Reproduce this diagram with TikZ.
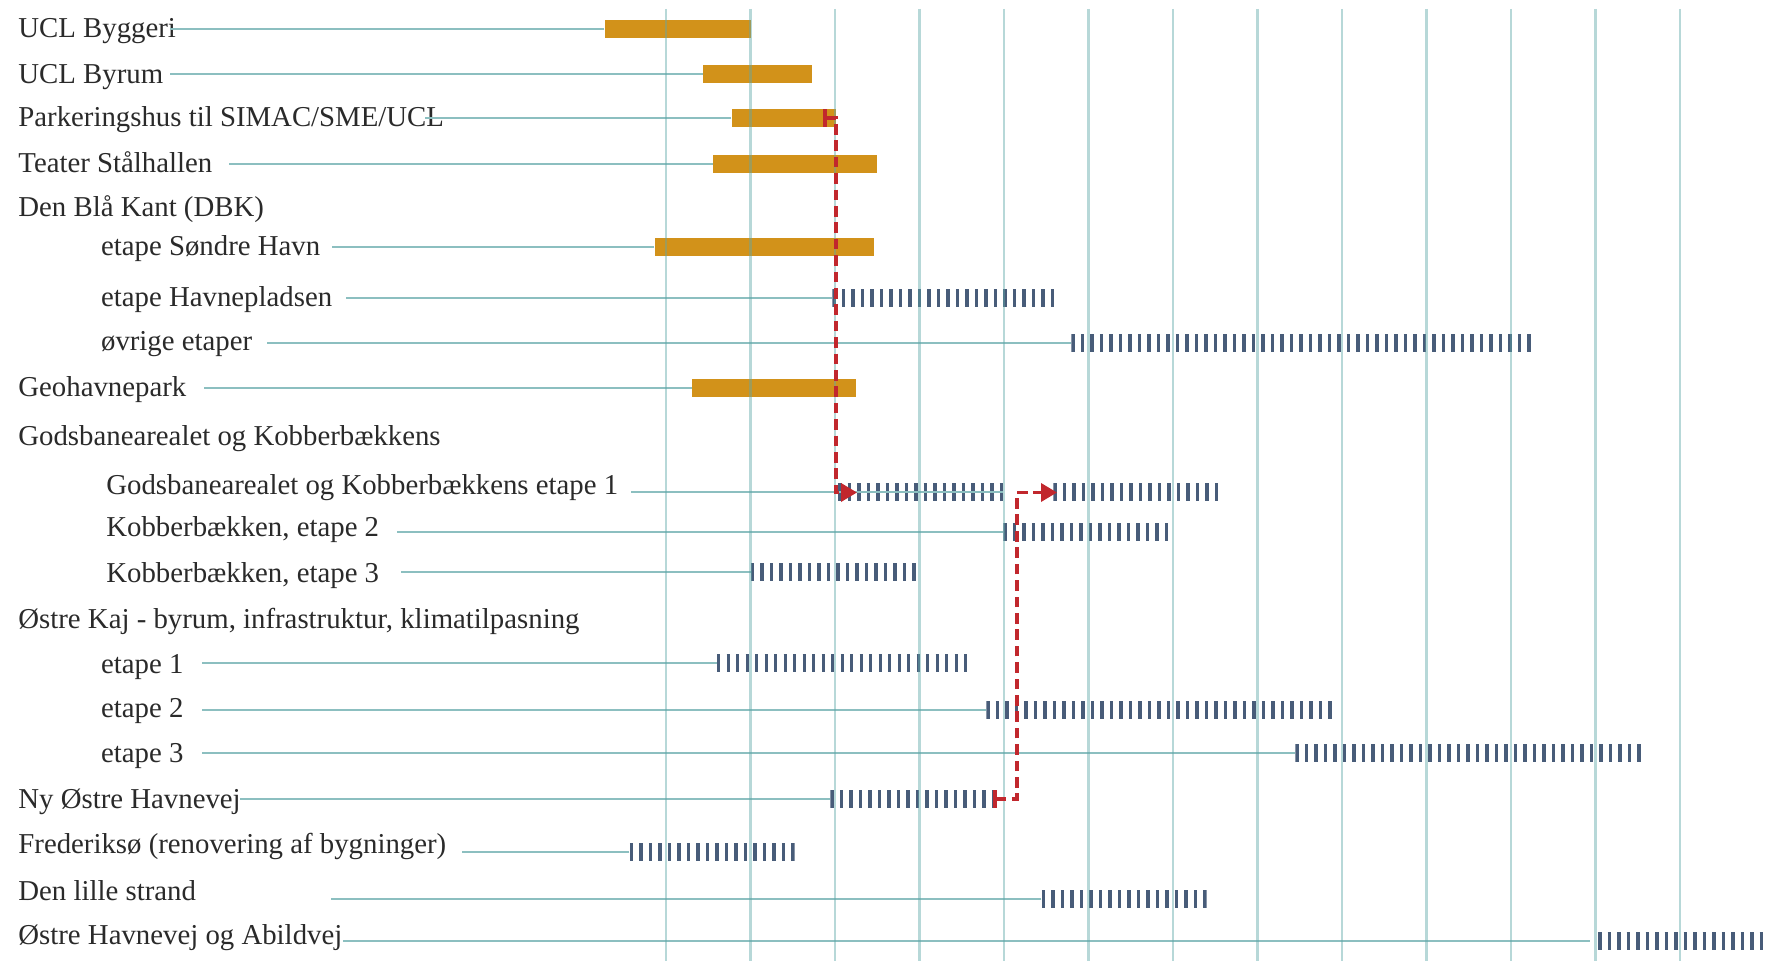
\documentclass[tikz,border=0pt]{standalone}
\usepackage{fontspec}
\setmainfont{Liberation Serif}
\usetikzlibrary{arrows.meta}

\definecolor{gridteal}{HTML}{5FA8A8}
\definecolor{rowteal}{HTML}{8CBFC0}
\definecolor{barorange}{HTML}{D2921A}
\definecolor{tickblue}{HTML}{485C79}
\definecolor{linkred}{HTML}{C1272D}
\definecolor{txtgrey}{HTML}{2A2A2A}

\tikzset{
  lbl/.style={anchor=base west, inner sep=0pt, text=txtgrey, font=\fontsize{14.4}{17}\selectfont},
  rowline/.style={draw=rowteal, line width=1pt},
  obar/.style={anchor=west, fill=barorange, inner sep=0pt, minimum height=9pt},
  tbar/.style={anchor=west, inner sep=0pt, minimum height=9pt,
    path picture={\draw[tickblue, line width=9pt, dash pattern=on 1.7pt off 3.05pt]
      (path picture bounding box.west) -- (path picture bounding box.east);}},
  gridline/.style={draw=gridteal, line width=1.3pt, opacity=0.45},
  link/.style={draw=linkred, line width=1.75pt, dash pattern=on 5.3pt off 2.9pt,
    {Bar[width=9pt,line width=2pt]}-{Triangle[length=8pt,width=9pt]}},
}

\begin{document}
\begin{tikzpicture}[x=0.5pt,y=-0.5pt]
    \useasboundingbox (0,0) rectangle (1775,961);

    % project names
    \node[lbl] (t1) at (18,38) {UCL Byggeri};
    \node[lbl] (t2) at (18,84) {UCL Byrum};
    \node[lbl] (t3) at (18,127) {Parkeringshus til SIMAC/SME/UCL};
    \node[lbl] (t4) at (18,173) {Teater Stålhallen};
    \node[lbl] (t5) at (18,217) {Den Blå Kant (DBK)};
    \node[lbl] (t6) at (100.7,256) {etape Søndre Havn};
    \node[lbl] (t7) at (100.7,307) {etape Havnepladsen};
    \node[lbl] (t8) at (100.7,351) {øvrige etaper};
    \node[lbl] (t9) at (18,397) {Geohavnepark};
    \node[lbl] (t10) at (18,446) {Godsbanearealet og Kobberbækkens};
    \node[lbl] (t11) at (106,495) {Godsbanearealet og Kobberbækkens etape 1};
    \node[lbl] (t12) at (106,537) {Kobberbækken, etape 2};
    \node[lbl] (t13) at (106,582) {Kobberbækken, etape 3};
    \node[lbl] (t14) at (18,628) {Østre Kaj - byrum, infrastruktur, klimatilpasning};
    \node[lbl] (t15) at (100.7,673.5) {etape 1};
    \node[lbl] (t16) at (100.7,717.6) {etape 2};
    \node[lbl] (t17) at (100.7,762) {etape 3};
    \node[lbl] (t18) at (18,808) {Ny Østre Havnevej};
    \node[lbl] (t19) at (18,853.5) {Frederiksø (renovering af bygninger)};
    \node[lbl] (t20) at (18,900) {Den lille strand};
    \node[lbl] (t21) at (18,944) {Østre Havnevej og Abildvej};

    % ongoing projects (orange bars)
    \node[obar, minimum width=73.1pt] (byggeri) at (604.3,29) {};
    \node[obar, minimum width=54.15pt] (byrum) at (703,74.5) {};
    \node[obar, minimum width=52pt] (park) at (731.3,118) {};
    \node[obar, minimum width=81.85pt] (teater) at (713,164) {};
    \node[obar, minimum width=109.85pt] (sondre) at (654.3,247) {};
    \node[obar, minimum width=82pt] (geo) at (691.7,388) {};

    % planned projects (ticks)
    \node[tbar, minimum width=110.95pt] (havnepl) at (832,298) {};
    \node[tbar, minimum width=229.7pt] (ovrige) at (1071,343) {};
    \node[tbar, minimum width=82.45pt] (gk1a) at (837.7,492.5) {};
    \node[tbar, minimum width=82.45pt] (gk1b) at (1053,492.5) {};
    \node[tbar, minimum width=82.45pt] (kob2) at (1003,532) {};
    \node[tbar, minimum width=82.45pt] (kob3) at (750.5,571.7) {};
    \node[tbar, minimum width=125.2pt] (ok1) at (716.6,663) {};
    \node[tbar, minimum width=172.7pt] (ok2) at (986,709.8) {};
    \node[tbar, minimum width=172.7pt] (ok3) at (1295,752.8) {};
    \node[tbar, minimum width=82.45pt] (nyoh) at (830,799) {};
    \node[tbar, minimum width=82.45pt] (fred) at (629.4,852.4) {};
    \node[tbar, minimum width=82.45pt] (strand) at (1041.4,898.8) {};
    \node[tbar, minimum width=82.45pt] (abild) at (1597.7,940.7) {};

    % guide lines
    \draw[rowline] (byggeri.west) -- ++(-434.3,0);
    \draw[rowline] (byrum.west) -- ++(-533,0);
    \draw[rowline] (park.west) -- ++(-306.3,0);
    \draw[rowline] (teater.west) -- ++(-484,0);
    \draw[rowline] (sondre.west) -- ++(-322.6,0);
    \draw[rowline] (havnepl.west) -- ++(-485.6,0);
    \draw[rowline] (ovrige.west) -- ++(-804,0);
    \draw[rowline] (geo.west) -- ++(-487.9,0);
    \draw[rowline] (gk1a.east) -- ++(-372,0);
    \draw[rowline] (kob2.west) -- ++(-606,0);
    \draw[rowline] (kob3.west) -- ++(-349.8,0);
    \draw[rowline] (ok1.west) -- ++(-515.1,0);
    \draw[rowline] (ok2.west) -- ++(-784.5,0);
    \draw[rowline] (ok3.west) -- ++(-1093.5,0);
    \draw[rowline] (nyoh.west) -- ++(-590,0);
    \draw[rowline] (fred.west) -- ++(-167.4,0);
    \draw[rowline] (strand.west) -- ++(-710.9,0);
    \draw[rowline] ([xshift=-4pt]abild.west) -- ++(-1247,0);

    % time grid
    \foreach \k in {0,...,12}
        \draw[gridline] ({666+84.5*\k},9) -- ({666+84.5*\k},961);

    % dependencies
    \draw[link] ([xshift=-6.65pt]park.east) -- (park.east) |- ([xshift=9.65pt]gk1a.west);
    \draw[link] ([xshift=-1.6pt]nyoh.east) -- ++(24.3,0) |- ([xshift=2pt]gk1b.west);
\end{tikzpicture}
\end{document}
